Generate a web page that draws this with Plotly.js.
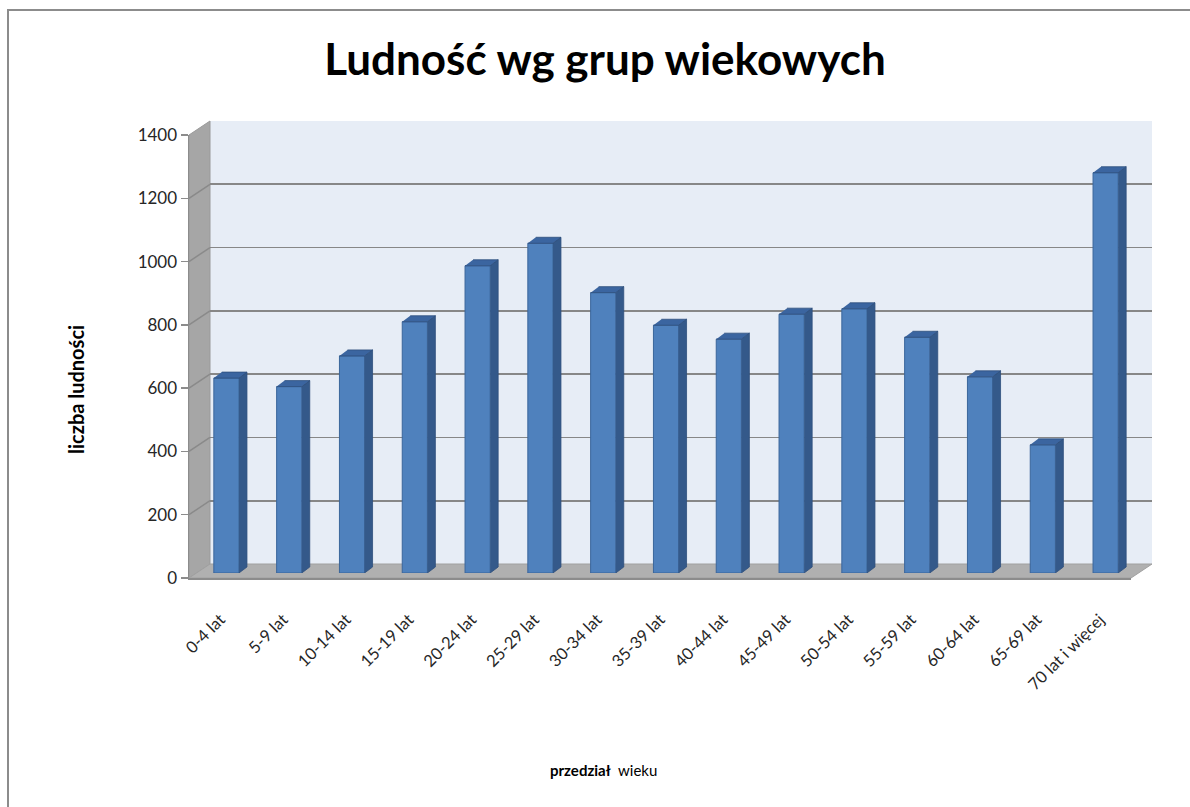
<!DOCTYPE html>
<html><head><meta charset="utf-8">
<script src="https://cdn.plot.ly/plotly-3.0.1.min.js"></script>
<style>html,body{margin:0;padding:0;background:#fff;overflow:hidden}#chart{width:1190px;height:807px}</style>
</head><body><div id="chart"></div>
<script>
// ---- data ----
const categories = ["0-4 lat","5-9 lat","10-14 lat","15-19 lat","20-24 lat","25-29 lat","30-34 lat","35-39 lat","40-44 lat","45-49 lat","50-54 lat","55-59 lat","60-64 lat","65-69 lat","70 lat i więcej"];
const population = [616,589,686,794,971,1042,886,783,739,818,835,745,620,405,1265];
const yTicks = [0,200,400,600,800,1000,1200,1400];
const chartTitle = "Ludność wg grup wiekowych";
const yTitle = "liczba ludności";
const xTitleBold = "przedział";
const xTitleRest = "wieku";

// ---- geometry (px) ----
const W = 1190, H = 807;
const YMAX = 1400;
const front = {x0: 189, x1: 1131, y0: 578, y1: 135};
const mid = {dx: 6, dy: -5};
const back = {dx: 21, dy: -14};
const fx = px => px / W;
const fy = py => (H - py) / H;
const n = categories.length;
const catPx = (front.x1 - front.x0) / n;
const valPerPx = YMAX / (front.y0 - front.y1);
const barW = 0.4;
const depthX = 8 / catPx;      // bar depth in category units
const depthY = 6 * valPerPx;   // bar depth in value units

const idx = categories.map((_, i) => i);

// 3D sides and tops of bars
const sideX = [], sideY = [], topX = [], topY = [];
population.forEach((v, i) => {
  const r = i + barW / 2, l = i - barW / 2;
  sideX.push(r, r + depthX, r + depthX, r, null);
  sideY.push(0, depthY, v + depthY, v, null);
  topX.push(l, r, r + depthX, l + depthX, null);
  topY.push(v, v, v + depthY, v + depthY, null);
});

const font = "Lato, 'Noto Sans', sans-serif";

const traces = [
  {type: 'scatter', x: [], y: [], xaxis: 'x', yaxis: 'y', hoverinfo: 'skip', showlegend: false},
  {type: 'scatter', x: [], y: [], xaxis: 'x2', yaxis: 'y2', hoverinfo: 'skip', showlegend: false},
  {type: 'bar', x: idx, y: population, width: barW, xaxis: 'x3', yaxis: 'y3',
   marker: {color: '#4F81BD', line: {color: '#3A659B', width: 1}}, hoverinfo: 'skip', showlegend: false},
  {type: 'scatter', mode: 'lines', x: sideX, y: sideY, fill: 'toself', fillcolor: '#34598A',
   line: {color: '#2E4F7C', width: 0.8}, xaxis: 'x3', yaxis: 'y3', hoverinfo: 'skip', showlegend: false},
  {type: 'scatter', mode: 'lines', x: topX, y: topY, fill: 'toself', fillcolor: '#3B65A0',
   line: {color: '#2E4F7C', width: 0.8}, xaxis: 'x3', yaxis: 'y3', hoverinfo: 'skip', showlegend: false}
];

const xr = [-0.5, n - 0.5];
const yr = [0, YMAX];

const shapes = [];
// outer border (left and top edges visible)
shapes.push({type: 'line', xref: 'paper', yref: 'paper', x0: fx(8), x1: fx(8), y0: 0, y1: fy(10),
  line: {color: '#8C8C8C', width: 2}, layer: 'below'});
shapes.push({type: 'line', xref: 'paper', yref: 'paper', x0: fx(7), x1: 1, y0: fy(10), y1: fy(10),
  line: {color: '#8C8C8C', width: 2}, layer: 'below'});
// back wall
shapes.push({type: 'rect', xref: 'paper', yref: 'paper',
  x0: fx(front.x0 + back.dx), x1: fx(front.x1 + back.dx), y0: fy(front.y0 + back.dy), y1: fy(front.y1 + back.dy),
  line: {width: 0}, fillcolor: '#E7EDF6', layer: 'below'});
// left wall
shapes.push({type: 'path', xref: 'paper', yref: 'paper', layer: 'below',
  path: `M${fx(front.x0)},${fy(front.y0)} L${fx(front.x0)},${fy(front.y1)} L${fx(front.x0 + back.dx)},${fy(front.y1 + back.dy)} L${fx(front.x0 + back.dx)},${fy(front.y0 + back.dy)} Z`,
  fillcolor: '#A6A6A6', line: {color: '#9A9A9A', width: 1}});
// floor
shapes.push({type: 'path', xref: 'paper', yref: 'paper', layer: 'below',
  path: `M${fx(front.x0)},${fy(front.y0)} L${fx(front.x1)},${fy(front.y0)} L${fx(front.x1 + back.dx)},${fy(front.y0 + back.dy)} L${fx(front.x0 + back.dx)},${fy(front.y0 + back.dy)} Z`,
  fillcolor: '#B0B0B0', line: {color: '#A0A0A0', width: 1}});
// left wall gridlines (diagonals), via front y axis
yTicks.forEach(v => {
  if (v === 0) return;
  shapes.push({type: 'line', xref: 'paper', yref: 'y2', x0: fx(front.x0), x1: fx(front.x0 + back.dx),
    y0: v, y1: v - back.dy * valPerPx, line: {color: '#8A8A8A', width: 1.5}, layer: 'above'});
});

const layout = {
  width: W, height: H,
  margin: {l: 0, r: 0, t: 0, b: 0},
  paper_bgcolor: '#FFFFFF', plot_bgcolor: 'rgba(0,0,0,0)',
  showlegend: false,
  font: {family: font, color: '#262626'},
  title: {text: '<b>' + chartTitle + '</b>', font: {family: font, size: 44, color: '#000'},
          x: fx(605), xanchor: 'center', y: fy(60), yanchor: 'middle'},
  xaxis: {domain: [fx(front.x0 + back.dx), fx(front.x1 + back.dx)], range: xr, anchor: 'y',
          showgrid: false, showticklabels: false, zeroline: false, showline: false, ticks: '', fixedrange: true},
  yaxis: {domain: [fy(front.y0 + back.dy), fy(front.y1 + back.dy)], range: yr, anchor: 'x',
          tickvals: yTicks, showgrid: true, gridcolor: '#878787', gridwidth: 1.6,
          showticklabels: false, zeroline: false, showline: false, ticks: '', fixedrange: true},
  xaxis2: {domain: [fx(front.x0), fx(front.x1)], range: xr, anchor: 'y2',
           tickvals: idx, ticktext: categories, tickangle: -45, showgrid: false, zeroline: false,
           showline: true, linecolor: '#8C8C8C', linewidth: 1.5,
           ticks: 'outside', ticklen: 24, tickcolor: 'rgba(0,0,0,0)',
           tickfont: {family: font, size: 16.5, color: '#262626'}, fixedrange: true,
           title: {text: ''}},
  yaxis2: {domain: [fy(front.y0), fy(front.y1)], range: yr, anchor: 'x2',
           tickvals: yTicks, showgrid: false, zeroline: false, showline: true, linecolor: '#8C8C8C', linewidth: 1.5,
           ticks: 'outside', ticklen: 7, tickcolor: '#8C8C8C', tickwidth: 1.5,
           tickfont: {family: font, size: 17, color: '#262626'}, fixedrange: true},
  xaxis3: {domain: [fx(front.x0 + mid.dx), fx(front.x1 + mid.dx)], range: xr, anchor: 'y3', visible: false, fixedrange: true},
  yaxis3: {domain: [fy(front.y0 + mid.dy), fy(front.y1 + mid.dy)], range: yr, anchor: 'x3', visible: false, fixedrange: true},
  shapes: shapes,
  annotations: [
    {text: '<b>' + yTitle + '</b>', xref: 'paper', yref: 'paper', x: fx(76), y: fy(390), textangle: -90,
     showarrow: false, font: {family: font, size: 20, color: '#000'}, xanchor: 'center', yanchor: 'middle'},
    {text: '<b>' + xTitleBold + '</b>  ' + xTitleRest, xref: 'paper', yref: 'paper', x: fx(603), y: fy(770),
     showarrow: false, font: {family: font, size: 15, color: '#000'}, xanchor: 'center', yanchor: 'middle'}
  ]
};

Plotly.newPlot('chart', traces, layout, {staticPlot: true, displayModeBar: false});
</script>
</body></html>
